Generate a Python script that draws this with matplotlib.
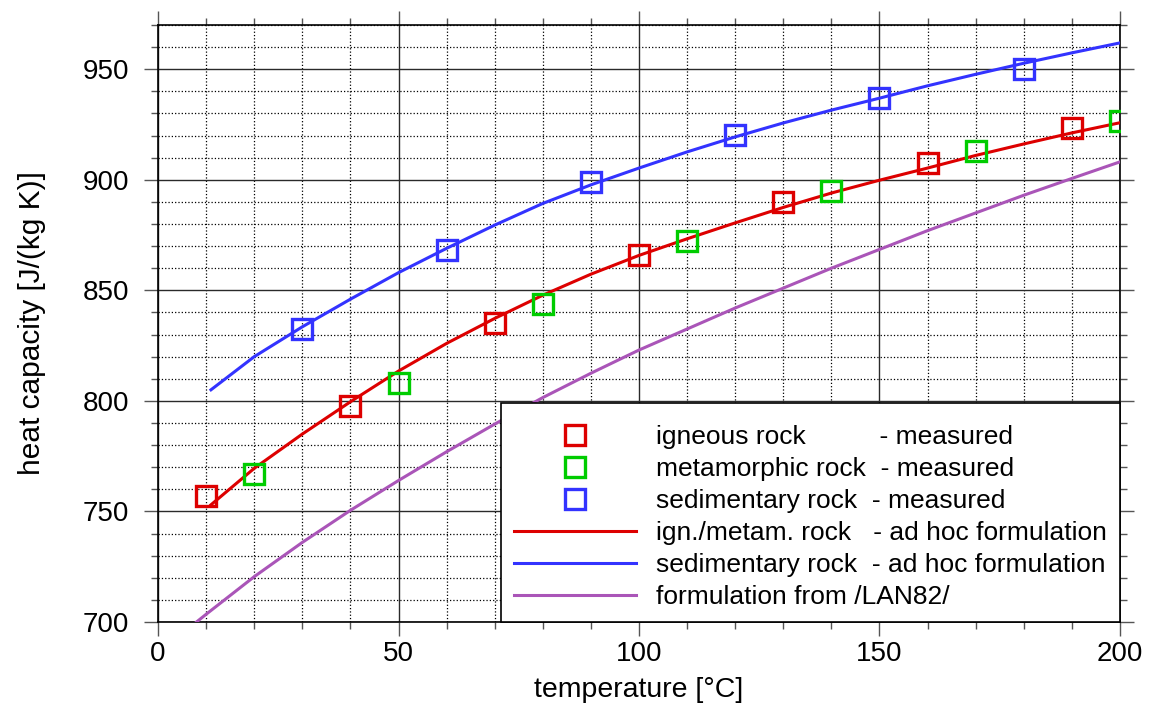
import matplotlib
matplotlib.use('Agg')
import matplotlib.pyplot as plt
from matplotlib.ticker import MultipleLocator

plt.rcParams['font.family'] = ['Liberation Sans', 'DejaVu Sans']

# ---- measured data ----
igneous_T = [10, 40, 70, 100, 130, 160, 190]
igneous_c = [757.0, 797.6, 835.0, 865.9, 890.0, 907.4, 923.4]
metamorphic_T = [20, 50, 80, 110, 140, 170, 200]
metamorphic_c = [766.8, 808.0, 843.8, 872.1, 894.8, 913.2, 926.6]
sedimentary_T = [30, 60, 90, 120, 150, 180]
sedimentary_c = [832.5, 868.2, 899.0, 920.2, 936.9, 950.3]

# ---- formulation curves ----
curve_T = [11, 20, 30, 40, 50, 60, 70, 80, 90, 100, 110, 120, 130, 140, 150,
           160, 170, 180, 190, 200]
ign_metam_curve = [753.0, 769.5, 785.0, 799.6, 813.5, 826.0, 837.3, 847.8, 857.3,
                   865.8, 873.3, 880.5, 887.5, 894.0, 899.8, 905.3, 911.0, 916.2,
                   921.2, 925.8]
sed_curve = [805.0, 820.0, 833.5, 846.0, 858.0, 869.0, 879.5, 889.3, 897.7, 905.3,
             912.6, 919.4, 925.7, 931.5, 936.9, 942.5, 947.7, 952.7, 957.4, 961.9]
lan82_T = [8, 10, 20, 30, 40, 50, 60, 70, 80, 90, 100, 110, 120, 130, 140, 150,
           160, 170, 180, 190, 200]
lan82_curve = [700.0, 703.5, 720.5, 736.0, 750.5, 764.0, 777.0, 789.5, 801.5, 812.5,
               823.0, 832.5, 842.0, 851.0, 860.0, 868.5, 877.0, 885.0, 893.0, 900.6,
               908.1]

labels = [
    "igneous rock          - measured",
    "metamorphic rock  - measured",
    "sedimentary rock  - measured",
    "ign./metam. rock   - ad hoc formulation",
    "sedimentary rock  - ad hoc formulation",
    "formulation from /LAN82/",
]

RED = '#dd0000'
GREEN = '#00cc00'
BLUE = '#3333ff'
PURPLE = '#aa55b8'

fig = plt.figure(figsize=(11.52, 7.06), dpi=100)
ax = fig.add_axes([0.1372, 0.119, 0.835, 0.8456])

l_red, = ax.plot(curve_T, ign_metam_curve, color=RED, lw=2.2, zorder=3)
l_blue, = ax.plot(curve_T, sed_curve, color=BLUE, lw=2.2, zorder=3)
l_pur, = ax.plot(lan82_T, lan82_curve, color=PURPLE, lw=2.2, zorder=3)

mk = dict(linestyle='none', marker='s', markersize=15, markeredgewidth=2.4,
          markerfacecolor='none', zorder=4)
m_ig, = ax.plot(igneous_T, igneous_c, markeredgecolor=RED, **mk)
m_me, = ax.plot(metamorphic_T, metamorphic_c, markeredgecolor=GREEN, **mk)
m_se, = ax.plot(sedimentary_T, sedimentary_c, markeredgecolor=BLUE, **mk)

ax.set_xlim(0, 200)
ax.set_ylim(700, 970)
ax.xaxis.set_major_locator(MultipleLocator(50))
ax.xaxis.set_minor_locator(MultipleLocator(10))
ax.yaxis.set_major_locator(MultipleLocator(50))
ax.yaxis.set_minor_locator(MultipleLocator(10))

ax.set_axisbelow(True)
ax.grid(which='major', color='#2a2a2a', linestyle='-', linewidth=1.0)
ax.grid(which='minor', color='black', linestyle=':', linewidth=0.9)

ax.tick_params(which='both', direction='out', top=True, right=True,
               color='#555555', width=1.0)
ax.tick_params(which='major', length=10, labelsize=20)
ax.tick_params(which='minor', length=5)
ax.tick_params(axis='x', which='major', pad=4)
ax.tick_params(axis='y', which='major', pad=11)

for s in ax.spines.values():
    s.set_linewidth(1.2)
    s.set_color('black')

ax.set_xlabel('temperature [°C]', fontsize=20.5, labelpad=7)
ax.set_ylabel('heat capacity [J/(kg K)]', fontsize=21.5, labelpad=26)

leg = ax.legend([m_ig, m_me, m_se, l_red, l_blue, l_pur], labels,
                loc='lower right', bbox_to_anchor=(1, 0), borderaxespad=0,
                fontsize=19, handlelength=4.6, handletextpad=0.76,
                borderpad=0.5, labelspacing=0.3, numpoints=1,
                fancybox=False, framealpha=1, edgecolor='black',
                title=' ', title_fontsize=1)
leg.get_frame().set_linewidth(1.2)
leg.set_zorder(10)

fig.savefig('out.png', dpi=100)
